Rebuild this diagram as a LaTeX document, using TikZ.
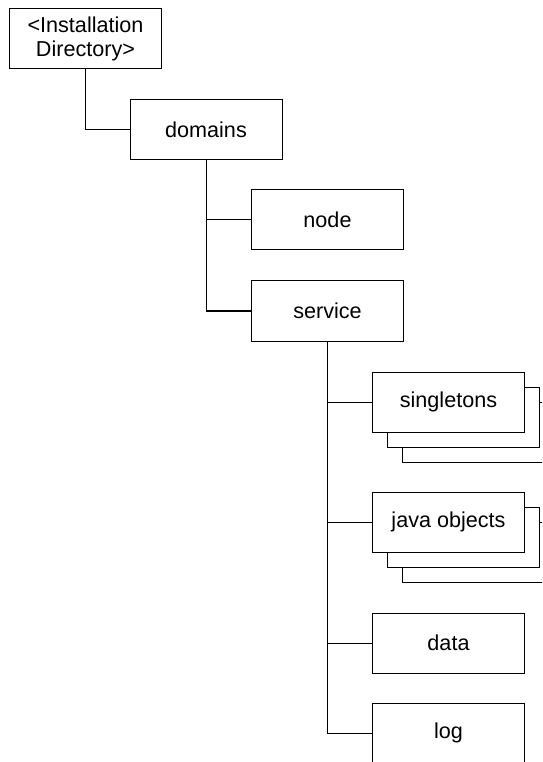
\documentclass[tikz,border=0pt]{standalone}
\usepackage{fontspec}
\setmainfont{Liberation Sans}
\usetikzlibrary{positioning,calc}

\begin{document}
\begin{tikzpicture}[
                    x=0.75pt, y=-0.75pt,
                    dirbox/.style={rectangle, draw, fill=white, line width=0.75pt,
                                   minimum width=114pt, minimum height=45pt,
                                   inner sep=0pt, align=center,
                                   font=\fontsize{16.2}{17.5}\selectfont},
                    link/.style={line width=0.75pt}
                ]
                    % Page frame
                    \useasboundingbox (0,0) rectangle (542,762);
                    \clip (0,0) rectangle (542,762);

                    % Directory nodes
                    \node[dirbox] (inst) at (85.5,39) {<Installation\\Directory>};
                    \node[dirbox] (domains) at (206,130) {domains};
                    \node[dirbox] (node) at (327.5,220) {node};
                    \node[dirbox] (service) at (327.5,311) {service};

                    % Stacked directories (several instances)
                    \node[dirbox] (single3) at (478.5,432) {};
                    \node[dirbox] (single2) at (463.5,417) {};
                    \node[dirbox] (single) at (448.5,402) {singletons};
                    \node[dirbox] (java3) at (478.5,552) {};
                    \node[dirbox] (java2) at (463.5,537) {};
                    \node[dirbox] (java) at (448.5,522) {java objects};

                    \node[dirbox] (data) at (448.5,643) {data};
                    \node[dirbox] (log) at (448.5,733) {log};

                    % Tree connectors
                    \draw[link] (inst.south) |- (domains.west);
                    \draw[link] (domains.south) |- (node.west);
                    \draw[link] (domains.south) |- (service.west);
                    \draw[link] (service.south) |- (single.west);
                    \draw[link] (service.south) |- (java.west);
                    \draw[link] (service.south) |- (data.west);
                    \draw[link] (service.south) |- (log.west);
                \end{tikzpicture}
\end{document}
